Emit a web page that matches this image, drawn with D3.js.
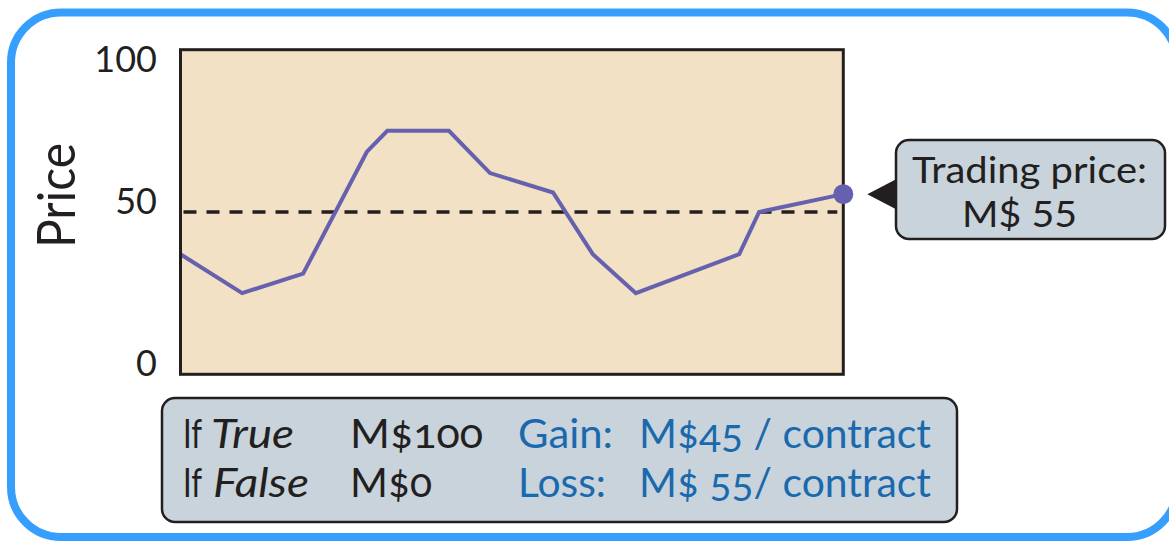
<!DOCTYPE html>
<html>
<head>
<meta charset="utf-8">
<script src="https://cdn.jsdelivr.net/npm/d3@7"></script>
<style>
  html, body { margin: 0; padding: 0; background: #ffffff; }
  svg { display: block; }
</style>
</head>
<body>
<svg id="chart" width="1169" height="542"></svg>
<script>
// ---- data ----
const timeSteps = [0, 9.3, 18.5, 28.1, 31.2, 40.5, 46.7, 56.2, 62.2, 68.7, 84.3, 87.3, 100];
const prices    = [37, 25, 31, 68.5, 75, 75, 62, 56, 37, 25, 37, 50, 55.5];
const yTicks = [0, 50, 100];
const yLabel = "Price";
const referenceLevel = 50;
const calloutLines = ["Trading price:", "M$ 55"];
const payoffRow1 = ["If", "True", "M$100", "Gain:", "M$45 / contract"];
const payoffRow2 = ["If", "False", "M$0", "Loss:", "M$ 55/ contract"];

// ---- layout ----
const svg = d3.select("#chart");
const plot = { left: 180.5, right: 843.3, top: 49.7, bottom: 374.3 };
const ink = "#231f20";
const font = "Lato, 'Open Sans', 'Noto Sans', sans-serif";

const x = d3.scaleLinear().domain([0, 100]).range([plot.left, plot.right]);
const y = d3.scaleLinear().domain([0, 100]).range([plot.bottom, plot.top]);

// outer rounded frame
svg.append("rect")
  .attr("x", 11).attr("y", 12.5)
  .attr("width", 1166).attr("height", 524.5)
  .attr("rx", 50).attr("ry", 50)
  .attr("fill", "#ffffff")
  .attr("stroke", "#369ffd").attr("stroke-width", 8);

// plot background
svg.append("rect")
  .attr("x", plot.left).attr("y", plot.top)
  .attr("width", plot.right - plot.left).attr("height", plot.bottom - plot.top)
  .attr("fill", "#f2e1c4");

// dashed reference line at 50
svg.append("line")
  .attr("x1", plot.left + 3).attr("x2", plot.right - 6)
  .attr("y1", y(referenceLevel)).attr("y2", y(referenceLevel))
  .attr("stroke", ink).attr("stroke-width", 3.5)
  .attr("stroke-dasharray", "13,10");

// price line
const line = d3.line().x((d, i) => x(timeSteps[i])).y(d => y(d));
svg.append("path")
  .datum(prices)
  .attr("d", line)
  .attr("fill", "none")
  .attr("stroke", "#6661af")
  .attr("stroke-width", 4)
  .attr("stroke-linejoin", "miter");

// plot frame
svg.append("rect")
  .attr("x", plot.left).attr("y", plot.top)
  .attr("width", plot.right - plot.left).attr("height", plot.bottom - plot.top)
  .attr("fill", "none")
  .attr("stroke", ink).attr("stroke-width", 3);

// end point
const last = prices.length - 1;
svg.append("circle")
  .attr("cx", x(timeSteps[last])).attr("cy", y(prices[last]))
  .attr("r", 10).attr("fill", "#6661af");

// y axis
const yAxis = svg.append("g")
  .attr("transform", `translate(${plot.left},0)`)
  .call(d3.axisLeft(y).tickValues(yTicks).tickSize(0).tickPadding(23.5).tickFormat(d3.format("d")));
yAxis.select(".domain").remove();
yAxis.selectAll(".tick text")
  .attr("font-family", font)
  .attr("font-size", 36)
  .attr("fill", ink)
  .attr("dy", null)
  .attr("dominant-baseline", "alphabetic")
  .attr("y", d => Math.max(y(d) + 1, plot.top + 21.5) - y(d));

// y label
svg.append("text")
  .attr("transform", `translate(75,195.5) rotate(-90)`)
  .attr("text-anchor", "middle")
  .attr("font-family", font)
  .attr("font-size", 52)
  .attr("fill", ink)
  .attr("textLength", 105)
  .attr("lengthAdjust", "spacingAndGlyphs")
  .text(yLabel);

// callout
const cb = { x: 896, y: 140, w: 269, h: 99 };
const tip = { x: x(timeSteps[last]) + 24, y: y(prices[last]) };
svg.append("path")
  .attr("d", `M${tip.x},${tip.y} L${cb.x + 2},${tip.y - 16} L${cb.x + 2},${tip.y + 16} Z`)
  .attr("fill", ink);
svg.append("rect")
  .attr("x", cb.x).attr("y", cb.y).attr("width", cb.w).attr("height", cb.h)
  .attr("rx", 13).attr("ry", 13)
  .attr("fill", "#c8d3dc").attr("stroke", ink).attr("stroke-width", 2.5);
const calloutSpec = [
  { cx: 1029.5, base: 183, len: 235 },
  { cx: 1019.5, base: 227, len: 115 }
];
svg.selectAll("text.callout")
  .data(calloutLines)
  .join("text")
  .attr("class", "callout")
  .attr("x", (d, i) => calloutSpec[i].cx)
  .attr("y", (d, i) => calloutSpec[i].base)
  .attr("text-anchor", "middle")
  .attr("font-family", font)
  .attr("font-size", 36)
  .attr("fill", ink)
  .attr("textLength", (d, i) => calloutSpec[i].len)
  .attr("lengthAdjust", "spacingAndGlyphs")
  .text(d => d);

// payoff box
svg.append("rect")
  .attr("x", 162).attr("y", 398).attr("width", 795).attr("height", 124)
  .attr("rx", 13).attr("ry", 13)
  .attr("fill", "#c8d3dc").attr("stroke", ink).attr("stroke-width", 2.5);

const blue = "#1a69ad";
const rowSpecs = [
  { base: 448, cells: [
    { x: 183, len: 19, style: "normal", color: ink },
    { x: 211, len: 83, style: "italic", color: ink },
    { x: 350, len: 133, style: "normal", color: ink },
    { x: 518, len: 95, style: "normal", color: blue },
    { x: 639, len: 292, style: "normal", color: blue }
  ]},
  { base: 497, cells: [
    { x: 183, len: 19, style: "normal", color: ink },
    { x: 213, len: 96, style: "italic", color: ink },
    { x: 350, len: 82, style: "normal", color: ink },
    { x: 518, len: 88, style: "normal", color: blue },
    { x: 639, len: 292, style: "normal", color: blue }
  ]}
];
[payoffRow1, payoffRow2].forEach((row, r) => {
  const spec = rowSpecs[r];
  svg.selectAll(`text.row${r}`)
    .data(row)
    .join("text")
    .attr("class", `row${r}`)
    .attr("x", (d, i) => spec.cells[i].x)
    .attr("y", spec.base)
    .attr("font-family", font)
    .attr("font-size", 40)
    .attr("font-style", (d, i) => spec.cells[i].style)
    .attr("fill", (d, i) => spec.cells[i].color)
    .attr("textLength", (d, i) => spec.cells[i].len)
    .attr("lengthAdjust", "spacingAndGlyphs")
    .style("font-variant-numeric", "oldstyle-nums")
    .text(d => d);
});
</script>
</body>
</html>
